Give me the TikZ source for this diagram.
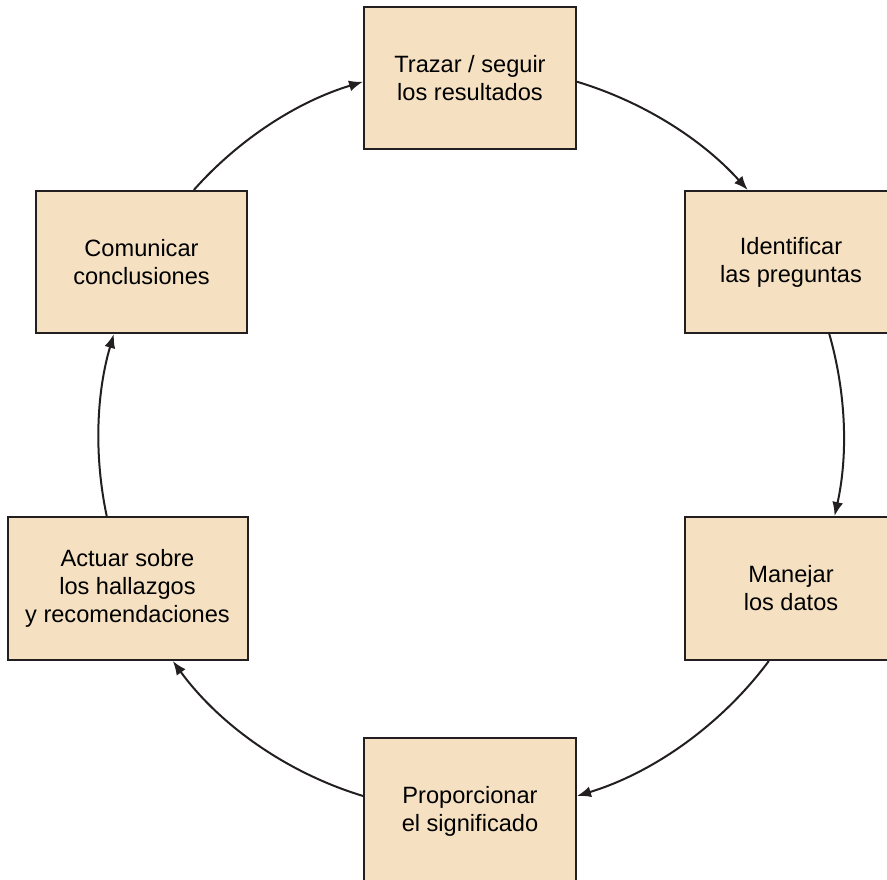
\documentclass[tikz,border=0pt]{standalone}
\usepackage{fontspec}
\setmainfont{Liberation Sans}
\usetikzlibrary{arrows.meta}
\definecolor{boxfill}{HTML}{F5E1C2}
\definecolor{boxline}{HTML}{231F20}
\begin{document}
\begin{tikzpicture}[x=1pt,y=1pt,
  stagebox/.style={draw=boxline,fill=boxfill,line width=2pt,rectangle,
    minimum height=142pt,inner sep=0pt,align=center,
    font=\fontsize{23.6pt}{28pt}\selectfont},
  cyc/.style={draw=boxline,line width=2pt,looseness=0.87,
    -{Latex[length=14pt,width=11pt]}}]
\useasboundingbox (0,0) rectangle (887,-879);
\clip (0,0) rectangle (887,-879);
\node[stagebox,minimum width=212pt] (A) at (470,-78) {Trazar / seguir\\los resultados};
\node[stagebox,minimum width=212pt] (B) at (791,-262) {Identificar\\las preguntas};
\node[stagebox,minimum width=212pt,minimum height=143pt] (C) at (791,-588.5) {Manejar\\los datos};
\node[stagebox,minimum width=212pt,minimum height=146pt] (D) at (470,-811) {Proporcionar\\el significado};
\node[stagebox,minimum width=240pt,minimum height=143pt] (E) at (127.5,-588.5) {Actuar sobre\\los hallazgos\\y recomendaciones};
\node[stagebox,minimum width=211pt] (F) at (141.5,-262) {Comunicar\\conclusiones};
\draw[cyc] (A.-2) to[bend left=15.6] (B.121);
\draw[cyc] (B.-62.5) to[bend left=14.3] (C.59);
\draw[cyc] (C.-107.6) to[bend left=18.2] (D.8.5);
\draw[cyc] (D.172.5) to[bend left=18.5] (E.-58.1);
\draw[cyc] (E.106.7) to[bend left=14.2] (F.-111.6);
\draw[cyc] (F.54.6) to[bend left=15.8] (A.182);
\end{tikzpicture}
\end{document}
